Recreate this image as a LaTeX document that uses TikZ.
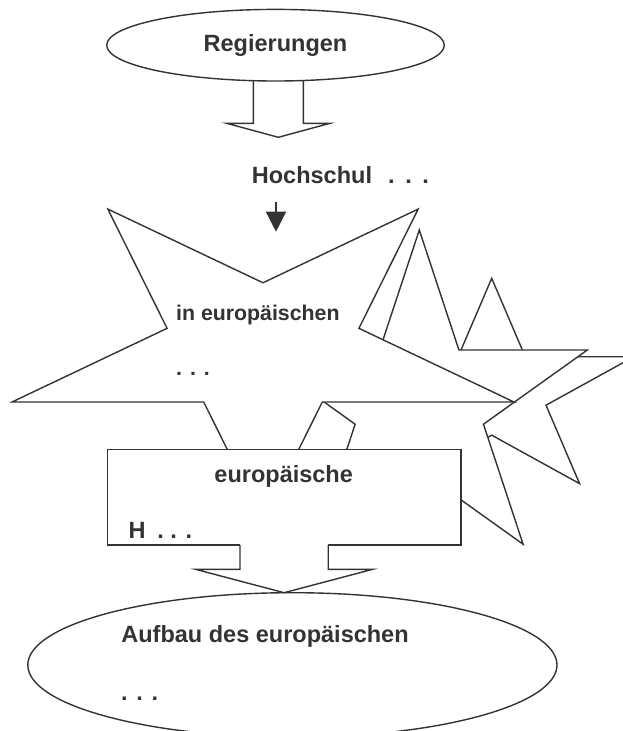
\documentclass[tikz,border=0pt]{standalone}
\usepackage{fontspec}
\setmainfont{Liberation Sans}
\usetikzlibrary{shapes.geometric,arrows.meta}
\definecolor{ink}{HTML}{333333}
\newcommand\drawstarshape[5]{%
  \filldraw[shapeline] ({#1+#3*cos(#5)},{#2-#4*sin(#5)})
    \foreach \k in {1,...,9}{
      -- ({#1+#3*ifthenelse(mod(\k,2)==0,1,0.382)*cos(#5+36*\k)},
          {#2-#4*ifthenelse(mod(\k,2)==0,1,0.382)*sin(#5+36*\k)})
    } -- cycle;}
\begin{document}
\begin{tikzpicture}[x=1pt,y=-1pt,
  shapeline/.style={draw=ink,fill=white,line width=1.4pt,line join=miter},
  lbl/.style={font=\bfseries\fontsize{23.5}{28}\selectfont,text=ink,inner sep=0pt},
  lblsmall/.style={font=\bfseries\fontsize{21.3}{26}\selectfont,text=ink,inner sep=0pt}]
\useasboundingbox[fill=white] (0,0) rectangle (623,731);

% stacked stars (back to front)
\drawstarshape{491.7}{391.8}{149.5}{113.5}{90}
\drawstarshape{419.3}{403.7}{176.6}{173.7}{90}
\drawstarshape{263}{348.7}{264}{172.6}{-90}

% top ellipse and block arrow
\fill[white] (253.3,70) -- (253.3,123.3) -- (226.7,123.3) -- (278.3,137.3)
  -- (330,123.3) -- (303.3,123.3) -- (303.3,70) -- cycle;
\draw[draw=ink,line width=1.4pt,line join=miter] (253.3,78) -- (253.3,123.3) -- (226.7,123.3)
  -- (278.3,137.3) -- (330,123.3) -- (303.3,123.3) -- (303.3,78);
\node[ellipse,shapeline,minimum width=337.6pt,minimum height=71.6pt,inner sep=0pt,
  lbl] (gov) at (275.5,45.2) {Regierungen};

% Hochschul text and small arrow
\node[lbl,anchor=base west] (hoch) at (251.7,183.3) {Hochschul\kern16.1pt.\kern10.6pt.\kern10.6pt.};
\coordinate (arrA) at (276,201.7);
\coordinate (arrB) at (276,231.7);
\draw[draw=ink,line width=1.4pt,-{Triangle[length=20pt,width=20pt]},fill=ink] (arrA) -- (arrB);

% star texts
\node[lblsmall,anchor=base west] (starT) at (176,320) {in europäischen};
\node[lblsmall,anchor=base west] (starD) at (176,375) {. . .};

% rectangle
\node[rectangle,shapeline,minimum width=353.7pt,minimum height=95.7pt,inner sep=0pt]
  (euro) at (284.15,497.15) {};
\node[lbl,anchor=base] (euroT) at (283.7,482.7) {europäische};
\node[lbl,anchor=base west] (euroH) at (128.3,538.3) {H\kern11.9pt. . .};

% bottom ellipse
\node[ellipse,shapeline,minimum width=529.2pt,minimum height=144.6pt,inner sep=0pt]
  (aufbau) at (292.4,665) {};
\node[lbl,anchor=base west] (aufT) at (121.2,642.7) {Aufbau des europäischen};
\node[lbl,anchor=base west] (aufD) at (121,700) {. . .};

% bottom block arrow
\fill[white] (240,543) -- (240,569.3) -- (195.5,569.3) -- (284.1,592.7)
  -- (372.7,569.3) -- (328.2,569.3) -- (328.2,543) -- cycle;
\draw[draw=ink,line width=1.4pt,line join=miter] (240,545) -- (240,569.3) -- (195.5,569.3)
  -- (284.1,592.7) -- (372.7,569.3) -- (328.2,569.3) -- (328.2,545);
\end{tikzpicture}
\end{document}
